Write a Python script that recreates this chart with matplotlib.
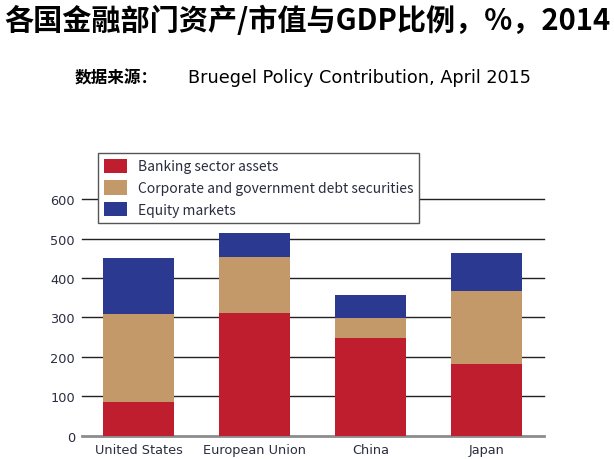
import numpy as np
import matplotlib.pyplot as plt

plt.rcParams['font.family'] = ['Noto Sans CJK SC', 'DejaVu Sans']

regions = ['United States', 'European Union', 'China', 'Japan']
banking = [85, 311, 249, 182]
debt = [223, 143, 50, 186]
equity = [142, 61, 59, 96]
series_names = ['Banking sector assets', 'Corporate and government debt securities', 'Equity markets']
colors = ['#be1e2d', '#c4996a', '#2b3990']
yticks = [0, 100, 200, 300, 400, 500, 600]

fig = plt.figure(figsize=(6.14, 4.6), dpi=100)
ax = fig.add_axes([0.1336, 0.0507, 0.752, 0.514])

x = np.arange(len(regions))
bottom = np.zeros(len(regions))
handles = []
for vals, name, c in zip([banking, debt, equity], series_names, colors):
    b = ax.bar(x, vals, 0.61, bottom=bottom, color=c, label=name, zorder=3)
    handles.append(b)
    bottom += np.array(vals)

ax.set_xlim(-0.487, 3.496)
ax.set_ylim(0, 600)
ax.set_yticks(yticks)
ax.set_xticks(x)
ax.set_xticklabels(regions)
for yv in yticks[1:]:
    ax.axhline(yv, color='#222222', lw=1, zorder=1, clip_on=False)
for s in ['top', 'right', 'left']:
    ax.spines[s].set_visible(False)
ax.spines['bottom'].set_color('#8c8c8c')
ax.spines['bottom'].set_linewidth(2)
ax.tick_params(length=0, labelsize=9.3, colors='#2a2d40', pad=5)
for lab in ax.get_xticklabels() + ax.get_yticklabels():
    lab.set_family('DejaVu Sans')

leg = ax.legend(handles=handles, loc='upper left', bbox_to_anchor=(0.16, 0.665),
                bbox_transform=fig.transFigure, fontsize=10, frameon=True,
                fancybox=False, edgecolor='#555555', framealpha=1,
                handlelength=1.65, handleheight=1.2, labelspacing=0.5,
                borderpad=0.4, handletextpad=0.8, borderaxespad=0)
leg.get_frame().set_linewidth(1)
leg.set_zorder(5)
for t in leg.get_texts():
    t.set_color('#2a2d40')

fig.text(0.5, 0.955, '各国金融部门资产/市值与GDP比例，%，2014', ha='center', va='center',
         fontsize=21, fontweight='bold', color='black')
fig.text(0.122, 0.83, '数据来源：', ha='left', va='center', fontsize=12, fontweight='bold')
fig.text(0.306, 0.83, 'Bruegel Policy Contribution, April 2015', ha='left', va='center',
         fontsize=12.7, family=['DejaVu Sans'])

fig.savefig('out.png', dpi=100)
